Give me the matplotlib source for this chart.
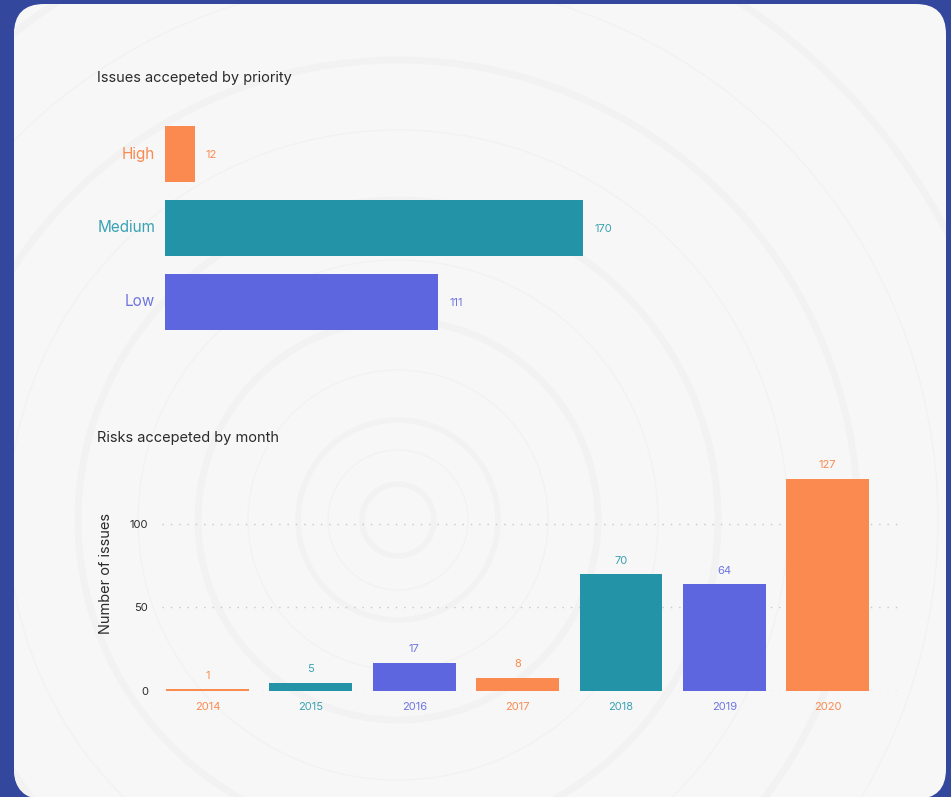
import matplotlib
matplotlib.use("Agg")
import matplotlib.pyplot as plt
from matplotlib.patches import FancyBboxPatch, Circle

plt.rcParams['font.family'] = ['Inter', 'DejaVu Sans']

# data
priorities = ["High", "Medium", "Low"]
priority_counts = [12, 170, 111]
years = ["2014", "2015", "2016", "2017", "2018", "2019", "2020"]
year_counts = [1, 5, 17, 8, 70, 64, 127]

ORANGE = "#fb8a50"
TEAL = "#2394a8"
PURPLE = "#5d66de"
text_colors = {ORANGE: "#fb8a50", TEAL: "#3aa2b3", PURPLE: "#6e75e0"}

prio_colors = [ORANGE, TEAL, PURPLE]
year_colors = [ORANGE, TEAL, PURPLE, ORANGE, TEAL, PURPLE, ORANGE]

W, H = 951, 797
fig = plt.figure(figsize=(W / 100, H / 100), dpi=100)
fig.patch.set_facecolor("#33489d")

# card background with rounded corners
card = FancyBboxPatch((0.14, -0.02), 9.32, 7.95,
                      boxstyle="round,pad=0,rounding_size=0.3",
                      transform=fig.dpi_scale_trans, facecolor="#f7f7f7",
                      edgecolor="none", zorder=-3)
fig.patches.append(card)

# faint concentric rings in the background
for r, lw in [(0.36, 4), (0.7, 1), (1.0, 4), (1.5, 1), (2.0, 5), (2.6, 1),
              (3.2, 5), (3.9, 1), (4.6, 5), (5.4, 1), (6.2, 5)]:
    c = Circle((3.98, 2.77), r, transform=fig.dpi_scale_trans, fill=False,
               edgecolor="#f1f2f1", linewidth=lw, zorder=-2)
    c.set_clip_path(card)
    fig.patches.append(c)

# ---- top chart: issues by priority ----
ax1 = fig.add_axes([165 / W, (H - 339) / H, 492 / W, 222 / H])
ax1.patch.set_alpha(0)
ypos = range(len(priorities))
ax1.barh(ypos, priority_counts, height=0.757, color=prio_colors)
ax1.set_ylim(2.5, -0.5)
ax1.set_xlim(0, 200)
ax1.set_yticks(list(ypos))
ax1.set_yticklabels(priorities, fontsize=11, va="center")
for lab, c in zip(ax1.get_yticklabels(), prio_colors):
    lab.set_color(text_colors[c])
ax1.tick_params(axis="y", length=0, pad=7)
ax1.set_xticks([])
for s in ax1.spines.values():
    s.set_visible(False)
for i, (v, c) in enumerate(zip(priority_counts, prio_colors)):
    ax1.annotate(str(v), xy=(v, i), xytext=(8, -1), textcoords="offset points",
                 va="center", ha="left", fontsize=8, color=text_colors[c])
fig.text(97 / W, 1 - 78 / H, "Issues accepeted by priority", fontsize=10.5,
         color="#2b2b2b", va="center", ha="left")

# ---- bottom chart: risks by year ----
ax2 = fig.add_axes([162 / W, (H - 691) / H, 738 / W, 234 / H])
ax2.patch.set_alpha(0)
xpos = range(len(years))
ax2.bar(xpos, year_counts, width=0.8, color=year_colors, zorder=2)
ax2.set_xlim(-0.44, 6.7)
ax2.set_ylim(0, 140)
ax2.set_yticks([0, 50, 100])
ax2.set_yticklabels(["0", "50", "100"], fontsize=8, color="#2b2b2b")
ax2.tick_params(axis="y", length=0, pad=10)
ax2.set_xticks(list(xpos))
ax2.set_xticklabels(years, fontsize=8)
for lab, c in zip(ax2.get_xticklabels(), year_colors):
    lab.set_color(text_colors[c])
ax2.tick_params(axis="x", length=0, pad=8)
ax2.grid(axis="y", linestyle=(0, (1, 5)), color="#c8c8c8", linewidth=1, zorder=1)
ax2.set_axisbelow(True)
for s in ax2.spines.values():
    s.set_visible(False)
for i, (v, c) in enumerate(zip(year_counts, year_colors)):
    ax2.annotate(str(v), xy=(i, v), xytext=(0, 6), textcoords="offset points",
                 va="bottom", ha="center", fontsize=8, color=text_colors[c],
                 annotation_clip=False)
ax2.set_ylabel("Number of issues", fontsize=10.5, color="#2b2b2b", labelpad=12)
fig.text(97 / W, 1 - 438 / H, "Risks accepeted by month", fontsize=10.5,
         color="#2b2b2b", va="center", ha="left")

fig.savefig("out.png", dpi=100, facecolor=fig.get_facecolor())
